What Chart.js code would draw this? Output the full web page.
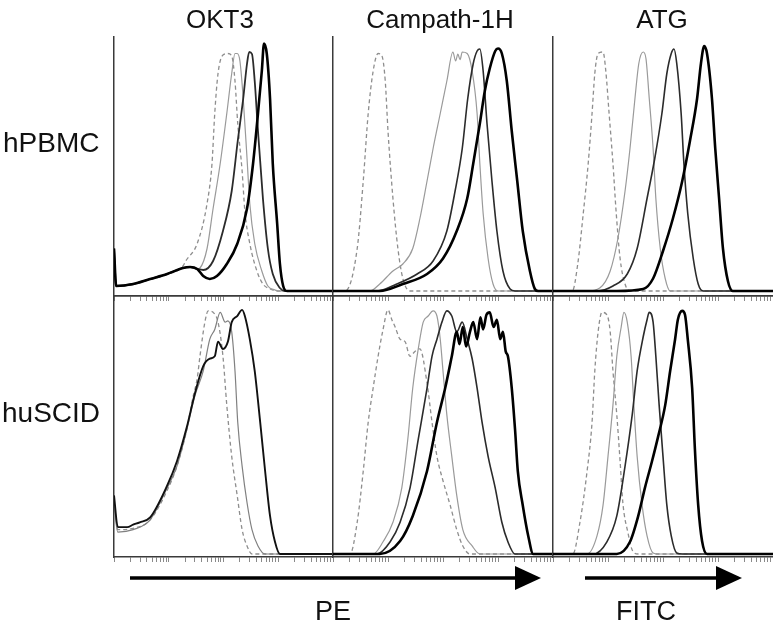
<!DOCTYPE html>
<html>
<head>
<meta charset="utf-8">
<script src="https://cdn.jsdelivr.net/npm/chart.js@4.4.0/dist/chart.umd.min.js"></script>
<style>
  body { margin: 0; background: #fff; }
  #fig { position: relative; width: 773px; height: 628px; overflow: hidden; background: #fff; }
  #fig canvas { position: absolute; }
  #fig svg { position: absolute; left: 0; top: 0; }
</style>
</head>
<body>
<div id="fig">
  <canvas id="c00" width="221" height="265"></canvas>
  <canvas id="c01" width="222" height="265"></canvas>
  <canvas id="c02" width="222" height="265"></canvas>
  <canvas id="c10" width="221" height="267"></canvas>
  <canvas id="c11" width="222" height="267"></canvas>
  <canvas id="c12" width="222" height="267"></canvas>
  <svg id="labels" width="773" height="628"></svg>
</div>
<script>
// column / row names
const columns = ['OKT3', 'Campath-1H', 'ATG'];
const rows = ['hPBMC', 'huSCID'];
const axisNames = ['PE', 'FITC'];

// log ticks of the fluorescence axis (4 decades)
const logTicks = [1, 2, 3, 4, 5, 6, 7, 8, 9,
  10, 20, 30, 40, 50, 60, 70, 80, 90,
  100, 200, 300, 400, 500, 600, 700, 800, 900,
  1000, 2000, 3000, 4000, 5000, 6000, 7000, 8000, 9000, 10000];

// curves: [log10 fluorescence, % of max]
// --- hPBMC / OKT3
const okt3_pbmc_dashed = [[0,16],[0.04,2],[0.35,2.6],[0.66,4.6],[0.97,6.6],[1.26,10],[1.31,12],[1.52,19],[1.70,35],[1.79,51],[1.84,71],[1.90,87],[1.99,94.4],[2.08,95],[2.15,94],[2.21,84],[2.26,67],[2.34,48],[2.39,32],[2.48,19],[2.61,8],[2.72,2.8],[2.85,0.8],[2.98,0],[4,0]];
const okt3_pbmc_thin = [[0,17],[0.04,2],[0.35,2.8],[0.66,4.8],[0.97,6.8],[1.26,9.2],[1.39,9.6],[1.52,8.8],[1.57,9.2],[1.70,17],[1.81,33],[1.94,51],[2.06,71],[2.15,87],[2.21,95],[2.25,95],[2.30,92],[2.36,77],[2.43,53],[2.48,35],[2.57,19],[2.70,8],[2.81,2],[2.94,0.4],[3.0,0],[4,0]];
const okt3_pbmc_medium = [[0,17],[0.04,2],[0.35,2.8],[0.66,4.8],[0.97,6.8],[1.26,9.2],[1.39,9.6],[1.52,8.8],[1.63,8.4],[1.81,12],[1.99,24],[2.15,40],[2.26,60],[2.36,77],[2.43,91],[2.47,95.6],[2.52,94.8],[2.57,84],[2.63,64],[2.72,37],[2.81,17],[2.90,6.8],[3.03,1.2],[3.12,0],[4,0]];
const okt3_pbmc_thick = [[0,17],[0.04,2],[0.35,2.8],[0.66,4.8],[0.97,6.8],[1.26,9.2],[1.39,9.6],[1.52,8.8],[1.63,6],[1.75,4.8],[1.88,6],[2.06,10.8],[2.25,18.8],[2.43,33],[2.54,51],[2.63,71],[2.70,88],[2.74,99],[2.79,95],[2.85,77],[2.90,51],[2.98,27],[3.03,11],[3.09,2],[3.16,0],[4,0]];
// --- hPBMC / Campath-1H
const camp_pbmc_dashed = [[0,0],[0.22,0],[0.44,17],[0.55,44],[0.64,71],[0.73,88],[0.82,95],[0.89,94],[0.95,84],[1.00,64],[1.09,37],[1.18,17],[1.27,5],[1.40,0],[4,0]];
const camp_pbmc_thin = [[0,0],[0.67,0],[0.85,2.8],[1.09,8],[1.27,10.8],[1.45,17],[1.58,29],[1.71,44],[1.82,57],[1.95,71],[2.07,84],[2.18,95.6],[2.23,92],[2.27,94.8],[2.31,92.5],[2.35,95.6],[2.44,95],[2.53,88],[2.62,71],[2.67,51],[2.73,31],[2.82,13],[2.91,2.8],[3.00,0],[4,0]];
const camp_pbmc_medium = [[0,0],[0.80,0],[1.16,2.8],[1.53,6.8],[1.82,12],[2.07,24],[2.22,40],[2.35,57],[2.45,77],[2.55,91],[2.62,96],[2.67,96.8],[2.73,88],[2.80,67],[2.89,44],[2.98,24],[3.09,8],[3.22,0.8],[3.31,0],[4,0]];
const camp_pbmc_thick = [[0,0],[0.85,0],[1.27,2.8],[1.71,6.8],[2.00,13],[2.25,24],[2.44,37],[2.55,51],[2.67,67],[2.76,80],[2.85,89],[2.95,96],[3.00,97],[3.07,95],[3.16,84],[3.25,64],[3.35,44],[3.45,24],[3.58,8],[3.67,0.8],[3.73,0],[4,0]];
// --- hPBMC / ATG
const atg_pbmc_dashed = [[0,0],[0.35,0],[0.45,10.8],[0.55,31],[0.64,51],[0.71,71],[0.76,87],[0.82,95],[0.91,95.6],[0.96,88],[1.02,71],[1.09,51],[1.15,31],[1.22,13],[1.31,2.8],[1.40,0],[4,0]];
const atg_pbmc_thin = [[0,0],[0.62,0],[0.85,1.2],[1.04,8],[1.18,21],[1.31,40],[1.40,57],[1.49,77],[1.56,91],[1.64,95.6],[1.69,93],[1.75,77],[1.82,57],[1.87,37],[1.95,17],[2.04,5],[2.13,0],[4,0]];
const atg_pbmc_medium = [[0,0],[0.80,0],[1.09,2],[1.35,6.8],[1.53,17],[1.71,37],[1.85,53],[1.98,71],[2.07,87],[2.15,95],[2.20,96.8],[2.25,91],[2.33,71],[2.38,51],[2.45,31],[2.55,13],[2.64,2.8],[2.73,0],[4,0]];
const atg_pbmc_thick = [[0,0],[1.16,0],[1.64,0.8],[1.82,5],[2.00,16],[2.18,29],[2.35,44],[2.49,60],[2.62,77],[2.69,91],[2.75,98],[2.80,95],[2.89,77],[2.95,57],[3.02,37],[3.09,17],[3.18,4],[3.27,0],[4,0]];
// --- huSCID / OKT3
const okt3_scid_dashed = [[0,22],[0.07,10],[0.35,10.5],[0.66,14],[0.97,26],[1.15,36],[1.33,51],[1.44,64],[1.52,72],[1.57,81],[1.66,95],[1.72,99.6],[1.81,99],[1.90,95],[1.99,81],[2.06,61],[2.15,40],[2.25,24],[2.34,10],[2.43,3.3],[2.52,0],[4,0]];
const okt3_scid_thin = [[0,20],[0.07,9],[0.35,10],[0.66,14],[0.97,27],[1.15,36],[1.33,51],[1.48,65],[1.63,75],[1.75,88],[1.84,92],[1.94,99],[2.03,95],[2.08,95.5],[2.15,91],[2.21,75],[2.26,54],[2.34,36],[2.43,21],[2.52,10],[2.63,3.3],[2.76,0],[4,0]];
const okt3_scid_black = [[0,24],[0.07,11],[0.24,11],[0.35,12],[0.47,13],[0.66,15],[0.97,28],[1.15,38],[1.33,52],[1.48,66],[1.63,77],[1.75,80],[1.84,81],[1.90,87],[1.99,84],[2.08,87],[2.15,95],[2.25,97.5],[2.34,100],[2.39,97.5],[2.48,88],[2.57,75],[2.67,54],[2.76,34],[2.85,15.6],[2.94,5],[3.03,0],[4,0]];
// --- huSCID / Campath-1H
const camp_scid_dashed = [[0,0],[0.31,0],[0.44,13],[0.55,34],[0.64,54],[0.73,68],[0.82,81],[0.91,92],[1.00,100],[1.07,96],[1.13,93],[1.22,88],[1.31,87],[1.40,81],[1.49,83],[1.58,84],[1.71,70],[1.80,54],[1.89,40],[2.00,30],[2.13,20],[2.25,10],[2.36,3.3],[2.49,0],[4,0]];
const camp_scid_thin = [[0,0],[0.73,0],[0.91,5],[1.09,13],[1.25,27],[1.36,47],[1.45,68],[1.55,84],[1.64,95],[1.73,97.5],[1.82,99.6],[1.89,97.5],[1.95,88],[2.00,75],[2.07,57],[2.16,40],[2.25,24],[2.36,10],[2.53,3.3],[2.67,0],[4,0]];
const camp_scid_medium = [[0,0],[0.80,0],[1.04,5],[1.22,13],[1.40,27],[1.55,47],[1.71,68],[1.80,81],[1.89,88],[1.98,95],[2.07,99.6],[2.16,97.5],[2.25,91],[2.35,95],[2.44,88],[2.53,80],[2.62,68],[2.71,54],[2.82,40],[2.95,27],[3.07,13],[3.18,5],[3.31,0],[4,0]];
const camp_scid_thick = [[0,0],[0.85,0],[1.22,5.3],[1.45,15.6],[1.71,34],[1.89,54],[2.04,68],[2.16,81],[2.25,91],[2.30,86],[2.36,93],[2.42,85],[2.49,91],[2.55,95],[2.62,88],[2.68,97],[2.73,92],[2.79,98],[2.85,99],[2.92,93],[2.98,96],[3.04,88],[3.09,91],[3.14,83],[3.18,81],[3.25,68],[3.31,51],[3.36,34],[3.45,20],[3.55,7.4],[3.64,0],[4,0]];
// --- huSCID / ATG
const atg_scid_dashed = [[0,0],[0.36,0],[0.49,13],[0.62,34],[0.71,54],[0.76,75],[0.82,91],[0.89,99],[0.98,98],[1.04,91],[1.09,75],[1.16,57],[1.22,38],[1.27,21],[1.36,9],[1.45,1.2],[1.55,0],[4,0]];
const atg_scid_thin = [[0,0],[0.62,0],[0.80,7.4],[0.91,20],[1.00,40],[1.09,61],[1.16,81],[1.24,93],[1.29,99],[1.35,95],[1.42,81],[1.47,61],[1.53,40],[1.62,20],[1.71,7.4],[1.82,0.4],[1.91,0],[4,0]];
const atg_scid_medium = [[0,0],[0.73,0],[0.98,5],[1.16,15.6],[1.31,36],[1.44,57],[1.53,75],[1.64,89],[1.71,96],[1.75,99],[1.82,95],[1.87,81],[1.93,61],[2.00,40],[2.07,20],[2.15,7.4],[2.25,0.4],[2.35,0],[4,0]];
const atg_scid_thick = [[0,0],[1.16,0],[1.40,5],[1.55,15.6],[1.67,27],[1.80,38],[1.91,48],[2.04,61],[2.13,75],[2.22,88],[2.27,96],[2.35,99.6],[2.40,98],[2.45,88],[2.53,68],[2.58,43],[2.64,20],[2.71,5.3],[2.80,0],[4,0]];

const styles = {
  dashed: { borderColor: '#8e8e8e', borderWidth: 1.3, borderDash: [4, 3] },
  thin:   { borderColor: '#9a9a9a', borderWidth: 1.2 },
  medium: { borderColor: '#2b2b2b', borderWidth: 1.6 },
  thick:  { borderColor: '#000000', borderWidth: 2.6 }
};

// panel placement on the page
const panelLeft = [114, 333, 553];
const panelWidth = [219, 220, 220];
const rowTop = [36, 295];

// y ranges put the zero line a few pixels above the axis line
const rowY = [
  { min: -2, max: 102 },
  { min: -1.23, max: 105.7 }
];

const panels = [
  ['c00', 0, 0, [['thick', okt3_pbmc_thick], ['medium', okt3_pbmc_medium], ['thin', okt3_pbmc_thin], ['dashed', okt3_pbmc_dashed]]],
  ['c01', 0, 1, [['thick', camp_pbmc_thick], ['medium', camp_pbmc_medium], ['thin', camp_pbmc_thin], ['dashed', camp_pbmc_dashed]]],
  ['c02', 0, 2, [['thick', atg_pbmc_thick], ['medium', atg_pbmc_medium], ['thin', atg_pbmc_thin], ['dashed', atg_pbmc_dashed]]],
  ['c10', 1, 0, [['medium', okt3_scid_black], ['thin', okt3_scid_thin], ['dashed', okt3_scid_dashed]]],
  ['c11', 1, 1, [['thick', camp_scid_thick], ['medium', camp_scid_medium], ['thin', camp_scid_thin], ['dashed', camp_scid_dashed]]],
  ['c12', 1, 2, [['thick', atg_scid_thick], ['medium', atg_scid_medium], ['thin', atg_scid_thin], ['dashed', atg_scid_dashed]]]
];

function makePanel(id, row, col, curves) {
  const cv = document.getElementById(id);
  cv.style.left = (panelLeft[col] - 2) + 'px';
  cv.style.top = rowTop[row] + 'px';

  const datasets = curves.map(([st, pts]) => Object.assign({
    data: pts.map(p => ({ x: p[0], y: p[1] })),
    pointRadius: 0,
    fill: false,
    cubicInterpolationMode: 'monotone'
  }, styles[st]));
  if (row === 0 && col === 0) {
    datasets.find(d => d.borderWidth === 1.6).borderWidth = 1.8;
  }
  if (row === 1 && col === 0) {
    datasets[0].borderColor = '#111';
    datasets[0].borderWidth = 1.9;
    datasets[1].borderColor = '#808080';
  }

  const scales = {
    x: {
      type: 'linear', min: 0, max: 4,
      afterBuildTicks: axis => { axis.ticks = logTicks.map(v => ({ value: Math.log10(v) })); },
      ticks: { display: false },
      grid: { display: true, drawOnChartArea: false, drawTicks: true, tickLength: 5, tickColor: '#8a8a8a', tickWidth: 1 },
      border: { display: true, color: '#3a3a3a', width: 1.5 }
    },
    y: {
      min: rowY[row].min, max: rowY[row].max,
      ticks: { display: false },
      grid: { display: false, drawTicks: false },
      border: { display: true, color: '#3a3a3a', width: 1.5 }
    }
  };
  if (row === 1) {
    scales.xTop = {
      type: 'linear', position: 'top', min: 0, max: 4,
      ticks: { display: false },
      grid: { display: false, drawTicks: false },
      border: { display: true, color: '#3a3a3a', width: 1.5 }
    };
  }

  new Chart(cv, {
    type: 'line',
    data: { datasets: datasets },
    options: {
      responsive: false,
      animation: false,
      layout: { padding: { left: 2, right: 0, top: row === 1 ? 1 : 0, bottom: 0 } },
      plugins: { legend: { display: false }, tooltip: { enabled: false } },
      scales: scales
    }
  });
}

panels.forEach(p => makePanel(p[0], p[1], p[2], p[3]));

// labels and arrows
const svg = document.getElementById('labels');
const NS = 'http://www.w3.org/2000/svg';
function addText(str, x, y, anchor, size) {
  const t = document.createElementNS(NS, 'text');
  t.setAttribute('x', x);
  t.setAttribute('y', y);
  t.setAttribute('text-anchor', anchor);
  t.setAttribute('font-family', 'Liberation Sans, Arial, sans-serif');
  t.setAttribute('font-size', size);
  t.setAttribute('fill', '#111');
  t.textContent = str;
  svg.appendChild(t);
}
function addArrow(x1, x2, y) {
  const l = document.createElementNS(NS, 'line');
  l.setAttribute('x1', x1); l.setAttribute('x2', x2 - 20);
  l.setAttribute('y1', y); l.setAttribute('y2', y);
  l.setAttribute('stroke', '#000'); l.setAttribute('stroke-width', '3.5');
  svg.appendChild(l);
  const h = document.createElementNS(NS, 'polygon');
  h.setAttribute('points', `${x2 - 26},${y - 12} ${x2},${y} ${x2 - 26},${y + 12}`);
  h.setAttribute('fill', '#000');
  svg.appendChild(h);
}

const titleX = [220, 440, 662];
columns.forEach((c, i) => addText(c, titleX[i], 28, 'middle', 26));
addText(rows[0], 3, 152, 'start', 28);
addText(rows[1], 2, 422, 'start', 28);
addArrow(130, 541, 578);
addArrow(585, 742, 578);
addText(axisNames[0], 333, 620, 'middle', 27);
addText(axisNames[1], 646, 620, 'middle', 27);
</script>
</body>
</html>
